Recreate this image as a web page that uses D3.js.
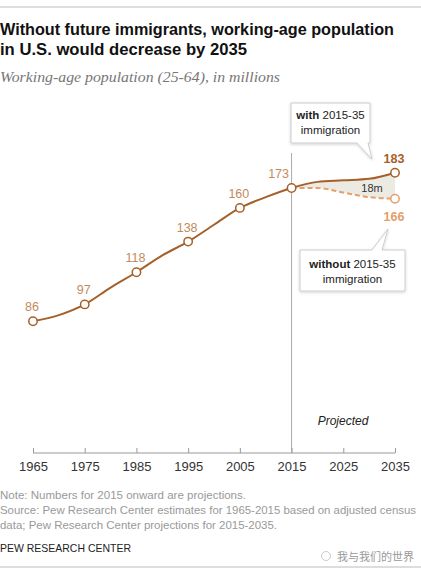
<!DOCTYPE html>
<html><head><meta charset="utf-8">
<script src="https://cdn.jsdelivr.net/npm/d3@7"></script>
<style>
body{margin:0;background:#fff;}
svg{display:block;font-family:"Liberation Sans",Arial,sans-serif;}
</style></head>
<body>
<svg id="c" width="421" height="575"></svg>
<script>
// ---- data ----
const histYears = [1965,1970,1975,1980,1985,1990,1995,2000,2005,2010,2015];
const histValues = [86,90,97,108,118,129,138,149,160,167,173];
const projYears = [2015,2020,2025,2030,2035];
const withImm = [173,177,178,179,183];
const withoutImm = [173,173,170,167,166];
const labeledYears = [1965,1975,1985,1995,2005,2015];
const labeledValues = [86,97,118,138,160,173];
const tickYears = [1965,1975,1985,1995,2005,2015,2025,2035];

const svg = d3.select("#c");
const brown = "#a5602a", lightBrown = "#c48a5c", orange = "#e3a06b";

// top & bottom rules
svg.append("line").attr("x1",0).attr("x2",421).attr("y1",7).attr("y2",7).attr("stroke","#bbb");
svg.append("line").attr("x1",0).attr("x2",421).attr("y1",567).attr("y2",567).attr("stroke","#bbb");

// title
svg.append("text").attr("x",0).attr("y",35).attr("font-size",16).attr("font-weight","bold").attr("fill","#111")
  .attr("textLength",394).attr("lengthAdjust","spacingAndGlyphs")
  .text("Without future immigrants, working-age population");
svg.append("text").attr("x",0).attr("y",55).attr("font-size",16).attr("font-weight","bold").attr("fill","#111")
  .attr("textLength",247).attr("lengthAdjust","spacingAndGlyphs")
  .text("in U.S. would decrease by 2035");
svg.append("text").attr("x",0).attr("y",82).attr("font-size",15).attr("font-style","italic")
  .attr("font-family","'Liberation Serif','DejaVu Serif',serif").attr("fill","#777")
  .attr("textLength",280).attr("lengthAdjust","spacingAndGlyphs")
  .text("Working-age population (25-64), in millions");

const x = d3.scaleLinear().domain([1965,2035]).range([33,395]);
const y = d3.scaleLinear().domain([0,173]).range([453,188]);

// axis
const axis = d3.axisBottom(x).tickValues(tickYears).tickFormat(d3.format("d")).tickSize(-5).tickPadding(9);
const ag = svg.append("g").attr("transform","translate(0,453)").call(axis);
ag.select(".domain").attr("stroke","#999").attr("d","M33,0H395");
ag.selectAll(".tick line").attr("stroke","#999");
ag.selectAll(".tick text").attr("font-size",13).attr("fill","#333").attr("font-family","'Liberation Sans',Arial,sans-serif");

// projection divider
svg.append("line").attr("x1",x(2015)).attr("x2",x(2015)).attr("y1",153).attr("y2",453).attr("stroke","#aaa").attr("stroke-width",1);
svg.append("text").attr("x",343).attr("y",425).attr("text-anchor","middle").attr("font-size",12).attr("font-style","italic").attr("fill","#222").text("Projected");

// shaded gap
const gap = projYears.map((yr,i)=>({yr,hi:withImm[i],lo:withoutImm[i]}));
svg.append("path").datum(gap)
  .attr("d", d3.area().x(d=>x(d.yr)).y0(d=>y(d.lo)).y1(d=>y(d.hi)).curve(d3.curveMonotoneX))
  .attr("fill","#ecebe3");
svg.append("text").attr("x",372).attr("y",192).attr("text-anchor","middle").attr("font-size",11).attr("fill","#333").text("18m");

const line = d3.line().x(d=>x(d[0])).y(d=>y(d[1])).curve(d3.curveMonotoneX);
// without (dashed)
svg.append("path").datum(projYears.map((yr,i)=>[yr,withoutImm[i]]))
  .attr("d",line).attr("fill","none").attr("stroke",orange).attr("stroke-width",2).attr("stroke-dasharray","5,3");
// historical + with
svg.append("path").datum(histYears.map((yr,i)=>[yr,histValues[i]]).concat(projYears.slice(1).map((yr,i)=>[yr,withImm[i+1]])))
  .attr("d",line).attr("fill","none").attr("stroke",brown).attr("stroke-width",2);

// markers
svg.selectAll("circle.h").data(labeledYears.map((yr,i)=>[yr,labeledValues[i]])).enter().append("circle")
  .attr("cx",d=>x(d[0])).attr("cy",d=>y(d[1])).attr("r",4.2).attr("fill","#fff").attr("stroke",brown).attr("stroke-width",1.5);
const last = projYears.length-1;
svg.append("circle").attr("cx",x(2035)).attr("cy",y(withImm[last])).attr("r",4.2).attr("fill","#fff").attr("stroke",brown).attr("stroke-width",1.5);
svg.append("circle").attr("cx",x(2035)).attr("cy",y(withoutImm[last])).attr("r",4.2).attr("fill","#fff").attr("stroke",orange).attr("stroke-width",1.5);

// value labels
svg.selectAll("text.v").data(labeledYears.map((yr,i)=>[yr,labeledValues[i]])).enter().append("text")
  .attr("x",d=>d[0]===2015 ? x(d[0])-13 : x(d[0])-1).attr("y",d=>y(d[1])-10).attr("text-anchor","middle")
  .attr("font-size",12.5).attr("fill",lightBrown).text(d=>d[1]);
svg.append("text").attr("x",x(2035)-1).attr("y",y(withImm[last])-10).attr("text-anchor","middle")
  .attr("font-size",12.5).attr("font-weight","bold").attr("fill",brown).text(withImm[last]);
svg.append("text").attr("x",x(2035)-1).attr("y",y(withoutImm[last])+22).attr("text-anchor","middle")
  .attr("font-size",12.5).attr("font-weight","bold").attr("fill",orange).text(withoutImm[last]);

// callouts
const defs = svg.append("defs");
const f = defs.append("filter").attr("id","sh").attr("x","-20%").attr("y","-20%").attr("width","140%").attr("height","140%");
f.append("feDropShadow").attr("dx",0).attr("dy",1).attr("stdDeviation",1.5).attr("flood-color","#000").attr("flood-opacity",0.18);

function callout(pathD, lines, cx, y0){
  svg.append("path").attr("d",pathD).attr("fill","#fff").attr("stroke","#ccc").attr("stroke-width",1).attr("filter","url(#sh)");
  lines.forEach((ln,i)=>{
    const t = svg.append("text").attr("x",cx).attr("y",y0+i*15).attr("text-anchor","middle").attr("font-size",11.5).attr("fill","#222");
    if(ln.b){ t.append("tspan").attr("font-weight","bold").text(ln.b); t.append("tspan").text(ln.r); }
    else t.text(ln.r);
  });
}
callout("M291,103H370V143H368L372,159L357,143H291Z",
  [{b:"with",r:" 2015-35"},{r:"immigration"}], 330.5, 119);
callout("M300,250H372L388,229L382,250H405V291H300Z",
  [{b:"without",r:" 2015-35"},{r:"immigration"}], 352.5, 268);

// notes
const note = svg.append("g").attr("font-size",11.5).attr("fill","#999");
note.append("text").attr("x",0).attr("y",499).attr("textLength",246).attr("lengthAdjust","spacingAndGlyphs").text("Note: Numbers for 2015 onward are projections.");
note.append("text").attr("x",0).attr("y",514).attr("textLength",416).attr("lengthAdjust","spacingAndGlyphs").text("Source: Pew Research Center estimates for 1965-2015 based on adjusted census");
note.append("text").attr("x",0).attr("y",529).attr("textLength",277).attr("lengthAdjust","spacingAndGlyphs").text("data; Pew Research Center projections for 2015-2035.");
svg.append("text").attr("x",0).attr("y",552).attr("font-size",11.5).attr("fill","#222")
  .attr("textLength",131).attr("lengthAdjust","spacingAndGlyphs").text("PEW RESEARCH CENTER");
svg.append("text").attr("x",337).attr("y",561).attr("font-size",11).attr("fill","#999")
  .attr("font-family","'Noto Sans CJK SC',sans-serif").text("我与我们的世界");
svg.append("circle").attr("cx",326).attr("cy",556).attr("r",4.5).attr("fill","none").attr("stroke","#bbb").attr("stroke-width",0.8);
</script>
</body></html>
